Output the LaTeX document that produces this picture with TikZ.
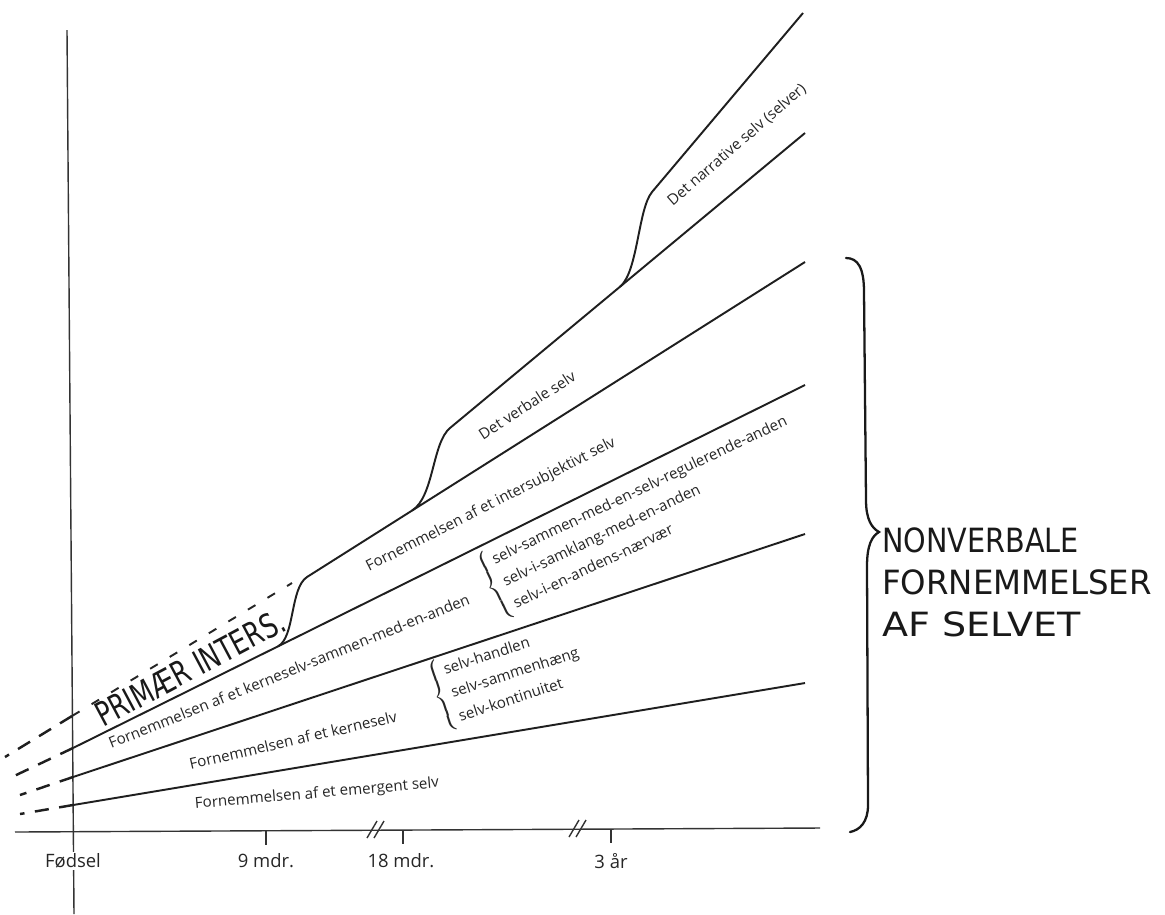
\documentclass[tikz,border=0pt]{standalone}
\usepackage{fontspec}
\setmainfont{Open Sans}
\newfontfamily\hand{DejaVu Sans}
\usetikzlibrary{calc}
\begin{document}
\begin{tikzpicture}[x=0.02cm,y=-0.02cm,
  ln/.style={line width=1.1pt,black!88},
  ax/.style={line width=0.8pt,black!80},
  dshL/.style={line width=1.4pt,black!88,dash pattern=on 8pt off 6pt},
  dshR/.style={line width=1.1pt,black!85,dash pattern=on 5pt off 8pt},
  lbl/.style={font=\fontsize{8.6}{14}\selectfont,text=black!85,inner sep=0pt},
  axlbl/.style={font=\fontsize{10.5}{12}\selectfont,text=black!85,inner sep=1pt},
  handw/.style={font=\hand\fontsize{19}{22}\selectfont,text=black!90,inner sep=0pt},
  hbrace/.style={line width=1.3pt,black!90,line cap=round}]
\useasboundingbox (0,0) rectangle (1165,914);
% axes
\draw[ax] (67,30) -- (74,914);
\draw[ax] (15,832) -- (820,828);
\coordinate (T9) at (266,831); \coordinate (T18) at (403,830); \coordinate (T3) at (611,829);
\draw[ax] (T9) -- ++(0,14);
\draw[ax] (T18) -- ++(0,14);
\draw[ax] (T3) -- ++(0,14);
% break marks
\draw[ax] (367,838) -- (377,821);
\draw[ax] (374,838) -- (384,821);
\draw[ax] (569,837) -- (579,820);
\draw[ax] (576,837) -- (586,820);
\node[axlbl,fill=white] (f0) at (73,861) {Fødsel};
\node[axlbl] (f9) at (266,861) {9 mdr.};
\node[axlbl] (f18) at (401,861) {18 mdr.};
\node[axlbl] (f3) at (611,861) {3 år};
% main lines
\coordinate (E0) at (73,805); \coordinate (E1) at (805,683);
\coordinate (K0) at (73,777); \coordinate (K1) at (805,534);
\coordinate (S0) at (73,748); \coordinate (S1) at (805,385);
\coordinate (I0) at ($(S0)!0.28!(S1)$);
\coordinate (I1) at (307,577); \coordinate (I2) at (805,262);
\coordinate (V0) at ($(I1)!0.211!(I2)$);
\coordinate (V1) at (450,428); \coordinate (V2) at (805,133);
\coordinate (N0) at ($(V1)!0.479!(V2)$);
\coordinate (N1) at (652,192); \coordinate (N2) at (803,13);
\draw[ln] (E0) -- (E1);
\draw[ln] (K0) -- (K1);
\draw[ln] (S0) -- (S1);
\draw[ln] (I0) .. controls +(17,-9) and +(-17,11) .. (I1) -- (I2);
\draw[ln] (V0) .. controls +(22,-14) and +(-18,15) .. (V1) -- (V2);
\draw[ln] (N0) .. controls +(18,-15) and +(-14,17) .. (N1) -- (N2);
% dashed extensions
\coordinate (Ed) at (20,814); \coordinate (Kd) at (20,795);
\coordinate (Sd) at (12,777); \coordinate (Pd) at (5,757);
\coordinate (Pa) at (72,716); \coordinate (Pe) at (292,583);
\draw[dshL] (E0) -- (Ed);
\draw[dshL] (K0) -- (Kd);
\draw[dshL] (S0) -- (Sd);
\draw[dshL] (Pa) -- (Pd);
\draw[dshR] (Pa) -- (Pe);
% band labels
\node[lbl,rotate=5] (tE) at (317,794) {Fornemmelsen af et emergent selv};
\node[lbl,rotate=13] (tK) at (293,740) {Fornemmelsen af et kerneselv};
\node[lbl,rotate=22] (tS) at (289,671) {Fornemmelsen af et kerneselv-sammen-med-en-anden};
\node[lbl,rotate=27] (tI) at (491,505) {Fornemmelsen af et intersubjektivt selv};
\node[lbl,rotate=33] (tV) at (527,405) {Det verbale selv};
\node[lbl,rotate=41] (tN) at (737,145) {Det narrative selv (selver)};
% brace groups
\node[lbl,rotate=25.5,anchor=west] (gS) at (487,590)
  {$\left\{\begin{tabular}{@{\,}l@{}}selv-sammen-med-en-selv-regulerende-anden\\selv-i-samklang-med-en-anden\\selv-i-en-andens-nærvær\end{tabular}\right.$};
\node[lbl,rotate=18,anchor=west] (gK) at (434,699)
  {$\left\{\begin{tabular}{@{\,}l@{}}selv-handlen\\selv-sammenhæng\\selv-kontinuitet\end{tabular}\right.$};
% handwritten
\node[handw,rotate=28,xscale=0.75] (prim) at (190,668) {PRIMÆR INTERS.};
\draw[hbrace] (846,258) .. controls (858,258) and (864,268) .. (864,292)
  -- (866,500) .. controls (866,520) and (872,528) .. (879,532)
  .. controls (872,536) and (867,545) .. (867,566)
  -- (868,805) .. controls (868,822) and (860,830) .. (850,832);
\node[handw,anchor=south west,xscale=0.86] (h1) at (882,553) {NONVERBALE};
\node[handw,anchor=south west,xscale=0.97] (h2) at (882,595) {FORNEMMELSER};
\node[handw,anchor=south west,xscale=1.14] (h3) at (882,637) {AF SELVET};
\end{tikzpicture}
\end{document}
